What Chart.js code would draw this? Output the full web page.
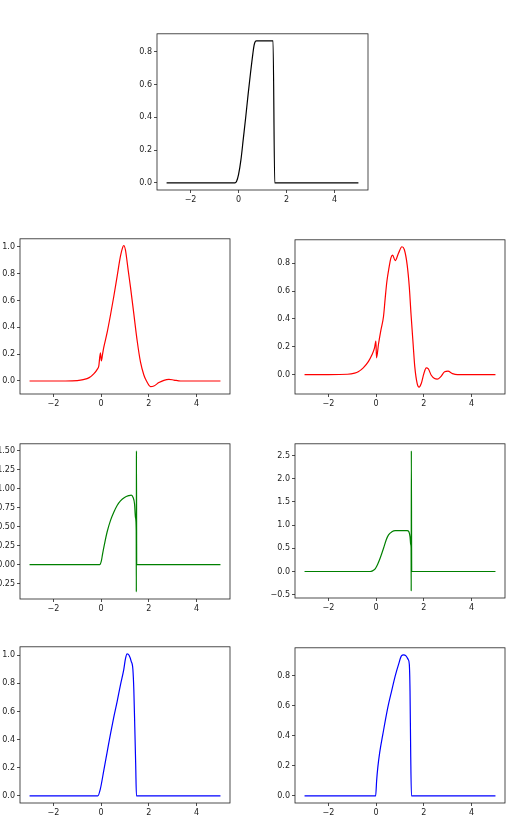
<!DOCTYPE html>
<html>
<head>
<meta charset="utf-8">
<script src="https://cdn.jsdelivr.net/npm/chart.js@4.4.0/dist/chart.umd.min.js"></script>
<style>
html, body { margin: 0; padding: 0; background: #fff; overflow: hidden; width: 511px; height: 822px; }
canvas { position: absolute; }
</style>
</head>
<body>
<canvas id="c1"></canvas>
<canvas id="c2"></canvas>
<canvas id="c3"></canvas>
<canvas id="c4"></canvas>
<canvas id="c5"></canvas>
<canvas id="c6"></canvas>
<canvas id="c7"></canvas>
<script>
// tick labels
const xTicks = [-2, 0, 2, 4];
const yTicks1 = [0, 0.2, 0.4, 0.6, 0.8];
const yTicks2 = [0, 0.2, 0.4, 0.6, 0.8, 1.0];
const yTicks3 = [0, 0.2, 0.4, 0.6, 0.8];
const yTicks4 = [-0.25, 0, 0.25, 0.5, 0.75, 1.0, 1.25, 1.5];
const yTicks5 = [-0.5, 0, 0.5, 1.0, 1.5, 2.0, 2.5];
const yTicks6 = [0, 0.2, 0.4, 0.6, 0.8, 1.0];
const yTicks7 = [0, 0.2, 0.4, 0.6, 0.8];

// series
const blackX = [-3, -0.5, -0.15, -0.08, 0, 0.1, 0.2, 0.3, 0.4, 0.5, 0.6, 0.65, 0.7, 0.75, 1.44, 1.51, 3, 5];
const blackY = [0, 0, 0, 0.01, 0.05, 0.14, 0.27, 0.4, 0.54, 0.67, 0.79, 0.84, 0.862, 0.866, 0.866, 0, 0, 0];

const redLX = [-3, -2, -1.5, -1, -0.75, -0.5, -0.3, -0.15, -0.1, -0.03, 0.01, 0.06, 0.11, 0.25, 0.39, 0.53, 0.67, 0.81, 0.91, 0.95, 1.02, 1.08, 1.13, 1.23, 1.37, 1.51, 1.65, 1.79, 1.9, 2.07, 2.21, 2.42, 2.63, 2.84, 3.05, 3.33, 3.7, 5];
const redLY = [0, 0, 0, 0.003, 0.01, 0.025, 0.055, 0.09, 0.11, 0.21, 0.15, 0.2, 0.25, 0.36, 0.49, 0.63, 0.78, 0.93, 1.0, 1.01, 0.975, 0.9, 0.83, 0.7, 0.5, 0.3, 0.14, 0.045, 0, -0.042, -0.037, -0.012, 0.005, 0.012, 0.007, 0, 0, 0];

const redRX = [-3, -2, -1.2, -0.9, -0.75, -0.54, -0.32, -0.18, -0.07, -0.01, 0.015, 0.1, 0.2, 0.31, 0.38, 0.45, 0.54, 0.62, 0.69, 0.8, 0.94, 1.08, 1.18, 1.3, 1.39, 1.46, 1.55, 1.62, 1.72, 1.8, 1.89, 2.0, 2.1, 2.18, 2.31, 2.45, 2.56, 2.7, 2.87, 3.01, 3.2, 3.41, 3.8, 5];
const redRY = [0, 0, 0.002, 0.01, 0.02, 0.048, 0.095, 0.14, 0.19, 0.24, 0.12, 0.22, 0.32, 0.42, 0.55, 0.67, 0.77, 0.84, 0.86, 0.82, 0.875, 0.92, 0.9, 0.79, 0.63, 0.44, 0.22, 0.055, -0.065, -0.09, -0.065, 0.007, 0.048, 0.043, -0.005, -0.029, -0.033, -0.017, 0.02, 0.024, 0.007, 0, 0, 0];

const greenLX = [-3, -0.06, 0.01, 0.06, 0.14, 0.25, 0.39, 0.53, 0.67, 0.81, 0.98, 1.16, 1.26, 1.34, 1.4, 1.44, 1.47, 1.475, 1.48, 1.49, 1.51, 5];
const greenLY = [0, 0, 0.05, 0.14, 0.27, 0.43, 0.58, 0.69, 0.78, 0.84, 0.886, 0.91, 0.917, 0.886, 0.8, 0.62, 0.45, -0.36, 1.5, 0, 0, 0];

const greenRX = [-3, -0.25, -0.18, -0.04, 0.06, 0.17, 0.31, 0.42, 0.52, 0.66, 0.8, 1.01, 1.3, 1.37, 1.42, 1.45, 1.465, 1.47, 1.475, 1.49, 1.51, 5];
const greenRY = [0, 0, 0.007, 0.057, 0.15, 0.29, 0.5, 0.68, 0.79, 0.855, 0.88, 0.88, 0.88, 0.86, 0.75, 0.58, 0.5, -0.42, 2.6, 0, 0, 0];

const blueLX = [-3, -0.14, -0.03, 0.11, 0.25, 0.39, 0.53, 0.67, 0.81, 0.95, 1.02, 1.09, 1.17, 1.26, 1.33, 1.37, 1.41, 1.45, 1.48, 5];
const blueLY = [0, 0, 0.052, 0.18, 0.31, 0.44, 0.56, 0.67, 0.79, 0.9, 0.976, 1.01, 1.0, 0.957, 0.9, 0.755, 0.49, 0.207, 0, 0];

const blueRX = [-3, -0.02, 0.02, 0.07, 0.15, 0.28, 0.49, 0.65, 0.8, 0.94, 1.06, 1.15, 1.25, 1.34, 1.39, 1.42, 1.45, 1.48, 5];
const blueRY = [0, 0, 0.1, 0.19, 0.29, 0.41, 0.59, 0.7, 0.8, 0.877, 0.933, 0.94, 0.933, 0.91, 0.877, 0.7, 0.26, 0, 0];

// panel frames (plot area in page pixels) and y limits
const panels = [
    { id: 'c1', left: 157, top: 33, w: 211, h: 157, xs: blackX, ys: blackY, color: '#000000', yTicks: yTicks1, dec: 1, ymin: -0.0433, ymax: 0.909 },
    { id: 'c2', left: 20, top: 238, w: 210, h: 156, xs: redLX, ys: redLY, color: '#ff0000', yTicks: yTicks2, dec: 1, ymin: -0.097, ymax: 1.06 },
    { id: 'c3', left: 295, top: 239, w: 210, h: 155, xs: redRX, ys: redRY, color: '#ff0000', yTicks: yTicks3, dec: 1, ymin: -0.14, ymax: 0.97 },
    { id: 'c4', left: 20, top: 443, w: 210, h: 156, xs: greenLX, ys: greenLY, color: '#008000', yTicks: yTicks4, dec: 2, ymin: -0.453, ymax: 1.593 },
    { id: 'c5', left: 295, top: 443, w: 210, h: 155, xs: greenRX, ys: greenRY, color: '#008000', yTicks: yTicks5, dec: 1, ymin: -0.571, ymax: 2.751 },
    { id: 'c6', left: 20, top: 646, w: 210, h: 157, xs: blueLX, ys: blueLY, color: '#0000ff', yTicks: yTicks6, dec: 1, ymin: -0.05, ymax: 1.06 },
    { id: 'c7', left: 295, top: 647, w: 210, h: 156, xs: blueRX, ys: blueRY, color: '#0000ff', yTicks: yTicks7, dec: 1, ymin: -0.047, ymax: 0.987 }
];

const AXW = 50, AXH = 26, PAD = 6;
const minus = (s) => s.replace('-', '\u2212');

const framePlugin = {
    id: 'frame',
    afterDraw(chart) {
        const { ctx, chartArea: a } = chart;
        ctx.save();
        ctx.strokeStyle = '#222';
        ctx.lineWidth = 0.8;
        ctx.strokeRect(a.left, a.top, a.right - a.left, a.bottom - a.top);
        ctx.restore();
    }
};

const font = { family: 'DejaVu Sans', size: 8 };
const grid = { drawOnChartArea: false, drawTicks: true, tickLength: 3, color: '#222', lineWidth: 0.8 };

panels.forEach((p) => {
    const cv = document.getElementById(p.id);
    cv.width = p.w + AXW + PAD;
    cv.height = p.h + PAD + AXH;
    cv.style.left = (p.left - AXW) + 'px';
    cv.style.top = (p.top - PAD) + 'px';

    new Chart(cv.getContext('2d'), {
        type: 'line',
        data: {
            datasets: [{
                data: p.xs.map((x, i) => ({ x: x, y: p.ys[i] })),
                borderColor: p.color,
                borderWidth: 1.2,
                pointRadius: 0,
                fill: false,
                cubicInterpolationMode: 'monotone'
            }]
        },
        options: {
            responsive: false,
            animation: false,
            layout: { padding: { top: PAD, right: PAD, left: 0, bottom: 0 } },
            plugins: { legend: { display: false }, tooltip: { enabled: false } },
            scales: {
                x: {
                    type: 'linear',
                    min: -3.4,
                    max: 5.4,
                    grid: grid,
                    border: { display: false },
                    afterBuildTicks: (axis) => { axis.ticks = xTicks.map((v) => ({ value: v })); },
                    afterFit: (axis) => { axis.height = AXH; },
                    ticks: { font: font, color: '#222', padding: 2, maxRotation: 0, callback: (v) => minus(String(v)) }
                },
                y: {
                    min: p.ymin,
                    max: p.ymax,
                    grid: grid,
                    border: { display: false },
                    afterBuildTicks: (axis) => { axis.ticks = p.yTicks.map((v) => ({ value: v })); },
                    afterFit: (axis) => { axis.width = AXW; },
                    ticks: { font: font, color: '#222', padding: 2, callback: (v) => minus(Number(v).toFixed(p.dec)) }
                }
            }
        },
        plugins: [framePlugin]
    });
});
</script>
</body>
</html>
